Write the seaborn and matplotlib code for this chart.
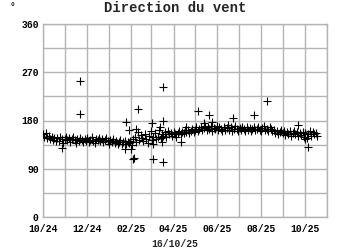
import matplotlib
matplotlib.use("Agg")
import matplotlib.pyplot as plt
import seaborn as sns
import pandas as pd

# ---- data ----
start_date = "2024-10-01"
# main series, one reading every 2 days from 2024-10-01
dir_main = [
    155, 150, 157, 148, 152, 146, 150, 144, 148, 142,
    147, 141, 149, 145, 138, 146, 150, 143, 147, 140,
    145, 149, 143, 138, 146, 141, 148, 144, 139, 145,
    142, 147, 140, 144, 149, 141, 138, 145, 143, 147,
    141, 146, 139, 143, 148, 142, 137, 144, 140, 145,
    138, 141, 136, 140, 143, 137, 139, 142, 136, 140,
    138, 142, 135, 145, 150, 140, 158, 144, 153, 148,
    141, 155, 146, 138, 152, 160, 143, 149, 157, 145,
    150, 162, 148, 155, 152, 158, 150, 161, 154, 157,
    152, 159, 155, 150, 157, 161, 154, 158, 156, 162,
    158, 163, 157, 160, 165, 159, 162, 167, 161, 164,
    168, 162, 166, 170, 163, 167, 165, 169, 161, 166,
    164, 170, 162, 167, 165, 160, 168, 163, 166, 171,
    163, 167, 161, 165, 169, 164, 160, 166, 162, 168,
    165, 161, 167, 163, 166, 160, 164, 168, 162, 165,
    167, 163, 160, 166, 169, 162, 165, 161, 168, 164,
    160, 163, 157, 161, 155, 159, 162, 156, 160, 153,
    158, 155, 161, 152, 157, 160, 154, 158, 151, 156,
    153, 159, 150, 157, 148, 155, 160, 152, 158, 154,
    156, 152,
]
extra_dates = [
    "2024-10-28", "2024-11-22", "2024-11-21", "2025-01-24", "2025-01-25",
    "2025-01-29", "2025-02-01", "2025-02-04", "2025-02-05", "2025-02-08",
    "2025-02-10", "2025-03-02", "2025-03-03", "2025-03-04", "2025-03-13",
    "2025-03-16", "2025-03-17", "2025-03-17", "2025-03-18", "2025-04-11",
    "2025-04-18", "2025-05-05", "2025-05-13", "2025-05-21", "2025-05-25",
    "2025-06-23", "2025-07-22", "2025-08-10", "2025-09-22", "2025-10-01",
    "2025-10-05",
]
extra_dir = [
    129, 254, 192, 126, 178,
    162, 126, 108, 110, 165,
    201, 176, 108, 136, 167,
    140, 243, 102, 180, 140,
    167, 198, 176, 190, 178,
    184, 191, 216, 172, 146,
    131,
]
ytick_values = [0, 45, 90, 135, 180, 225, 270, 315, 360]
ytick_labels = ["0", "", "90", "", "180", "", "270", "", "360"]
xtick_months = ["2024-10-01", "2024-11-01", "2024-12-01", "2025-01-01", "2025-02-01",
                "2025-03-01", "2025-04-01", "2025-05-01", "2025-06-01", "2025-07-01",
                "2025-08-01", "2025-09-01", "2025-10-01", "2025-11-01"]
xtick_labels = ["10/24", "", "12/24", "", "02/25", "", "04/25", "", "06/25", "",
                "08/25", "", "10/25", ""]
title = "Direction du vent"
xlabel = "16/10/25"
unit = "°"

# ---- frame ----
main_dates = pd.date_range(start_date, periods=len(dir_main), freq="2D")
df = pd.concat([
    pd.DataFrame({"date": main_dates, "dir": dir_main}),
    pd.DataFrame({"date": pd.to_datetime(extra_dates), "dir": extra_dir}),
], ignore_index=True)

sns.set_style("white")
plt.rcParams["font.family"] = ["Liberation Mono", "DejaVu Sans Mono"]
plt.rcParams["font.weight"] = "bold"

fig = plt.figure(figsize=(3.5, 2.5), dpi=100)
ax = fig.add_axes([43 / 350, 1 - 217 / 250, 284 / 350, 193 / 250])

sns.scatterplot(data=df, x="date", y="dir", marker="+", color="black",
                s=40, linewidth=0.8, ax=ax, legend=False, zorder=3)

ax.set_xlim(pd.Timestamp(xtick_months[0]), pd.Timestamp(xtick_months[-1]))
ax.set_ylim(ytick_values[0], ytick_values[-1])
ax.set_yticks(ytick_values)
ax.set_yticklabels(ytick_labels)
ax.set_xticks(pd.to_datetime(xtick_months))
ax.set_xticklabels(xtick_labels)
ax.grid(True, color="#b4b4b4", linewidth=1.0, zorder=0)
ax.set_axisbelow(True)
for sp in ax.spines.values():
    sp.set_color("#b4b4b4")
    sp.set_linewidth(1.0)
ax.tick_params(axis="y", length=0, labelsize=7, colors="black", pad=3)
ax.tick_params(axis="x", length=0, labelsize=7, colors="black", pad=5)
for lab in ax.get_yticklabels() + ax.get_xticklabels():
    lab.set_fontweight("bold")
ax.set_xlabel("")
ax.set_ylabel("")
fig.text(175 / 350, 1 - 244 / 250, xlabel, ha="center", va="center",
         fontsize=7, fontweight="bold")
fig.text(175 / 350, 1 - 8 / 250, title, ha="center", va="center",
         fontsize=10, fontweight="bold")
fig.text(13 / 350, 1 - 2.5 / 250, unit, ha="center", va="top", fontsize=7)

fig.savefig("out.png", dpi=100, facecolor="white")
